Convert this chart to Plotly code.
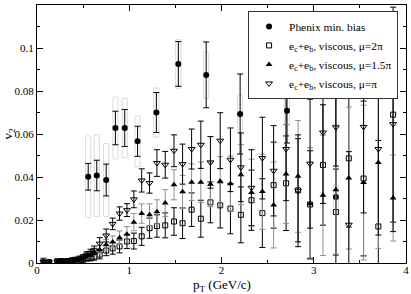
import plotly.graph_objects as go

# Phenix minimum-bias data
phenix_x = [0.555, 0.648, 0.75, 0.85, 0.951, 1.09, 1.294, 1.532, 1.834, 2.202, 2.71, 3.24]
phenix_y = [0.0401, 0.0407, 0.0386, 0.0628, 0.0628, 0.0566, 0.0700, 0.0926, 0.0875, 0.0693, 0.0708, 0.0307]
phenix_stat = [0.0062, 0.0071, 0.0074, 0.0078, 0.0086, 0.0070, 0.0093, 0.0104, 0.0153, 0.0186, 0.0150, 0.0500]
phenix_sys = [0.0190, 0.0190, 0.0170, 0.0144, 0.0137, 0.0118, 0.0114, 0.0113, 0.0108, 0.0089, 0.0070, 0.0060]

# theory pT grid
theory_x = [0.07, 0.13, 0.22, 0.26, 0.30, 0.34, 0.38, 0.42, 0.46, 0.50, 0.54, 0.58, 0.62, 0.68, 0.75,
            0.82, 0.895, 0.975, 1.05, 1.135, 1.22, 1.30, 1.39, 1.485, 1.578, 1.676, 1.776, 1.88,
            1.986, 2.097, 2.21, 2.325, 2.443, 2.565, 2.70, 2.83, 2.96, 3.10, 3.24, 3.38, 3.54, 3.70, 3.86]

# mu = 2 pi (open squares)
sq_y = [0.0003, 0.0004, 0.0008, 0.0009, 0.0008, 0.0009, 0.0012, 0.0013, 0.0015, 0.0016, 0.0022, 0.0025,
        0.0030, 0.0039, 0.0058, 0.0068, 0.0077, 0.0100, 0.0102, 0.0124, 0.0162, 0.0172, 0.0175, 0.0193,
        0.0185, 0.0248, 0.0206, 0.0282, 0.0268, 0.0253, 0.0224, 0.0292, 0.0232, 0.0362, 0.0371, 0.0338,
        0.0272, 0.0456, 0.0237, 0.0487, 0.0393, 0.0170, 0.0690]
sq_err = [0.0012, 0.0008, 0.0007, 0.0007, 0.0007, 0.0008, 0.0008, 0.0009, 0.0010, 0.0011, 0.0013, 0.0015,
          0.0017, 0.0020, 0.0024, 0.0027, 0.0030, 0.0033, 0.0037, 0.0042, 0.0047, 0.0052, 0.0058, 0.0064,
          0.0071, 0.0078, 0.0086, 0.0095, 0.0105, 0.0117, 0.0130, 0.0140, 0.0160, 0.0200, 0.0220, 0.0240,
          0.0250, 0.0280, 0.0200, 0.0320, 0.0360, 0.0400, 0.0500]

# mu = 1.5 pi (filled triangles)
tri_y = [0.0002, 0.0003, 0.0005, 0.0006, 0.0006, 0.0004, 0.0010, 0.0014, 0.0018, 0.0023, 0.0034, 0.0040,
         0.0051, 0.0062, 0.0085, 0.0098, 0.0118, 0.0134, 0.0190, 0.0230, 0.0225, 0.0238, 0.0279, 0.0364,
         0.0331, 0.0376, 0.0376, 0.0366, 0.0380, 0.0369, 0.0411, 0.0328, 0.0332, 0.0270, 0.0414, 0.0403,
         0.0276, 0.0315, 0.0341, 0.0395, 0.0374, 0.0468, 0.0302]
tri_err = [0.0012, 0.0008, 0.0007, 0.0007, 0.0008, 0.0008, 0.0009, 0.0010, 0.0011, 0.0012, 0.0014, 0.0016,
           0.0018, 0.0021, 0.0025, 0.0028, 0.0031, 0.0035, 0.0040, 0.0045, 0.0050, 0.0056, 0.0062, 0.0070,
           0.0077, 0.0085, 0.0094, 0.0104, 0.0115, 0.0128, 0.0140, 0.0155, 0.0175, 0.0200, 0.0230, 0.0260,
           0.0260, 0.0280, 0.0300, 0.0330, 0.0360, 0.0400, 0.0200]

# mu = pi (open down triangles)
dn_y = [0.0005, 0.0003, 0.0006, 0.0007, 0.0008, 0.0010, 0.0013, 0.0016, 0.0020, 0.0026, 0.0038, 0.0047,
        0.0059, 0.0090, 0.0128, 0.0182, 0.0230, 0.0246, 0.0296, 0.0384, 0.0372, 0.0465, 0.0457, 0.0522,
        0.0460, 0.0530, 0.0550, 0.0468, 0.0569, 0.0480, 0.0445, 0.0350, 0.0488, 0.0429, 0.0530, 0.0336,
        0.0462, 0.0607, 0.0631, 0.0178, 0.0633, 0.0530, 0.0646]
dn_err = [0.0017, 0.0009, 0.0008, 0.0008, 0.0009, 0.0009, 0.0010, 0.0011, 0.0012, 0.0013, 0.0015, 0.0017,
          0.0020, 0.0028, 0.0030, 0.0027, 0.0031, 0.0030, 0.0039, 0.0054, 0.0047, 0.0062, 0.0062, 0.0074,
          0.0093, 0.0093, 0.0110, 0.0120, 0.0130, 0.0148, 0.0160, 0.0177, 0.0190, 0.0210, 0.0240, 0.0260,
          0.0300, 0.0330, 0.0180, 0.0340, 0.0400, 0.0400, 0.0500]

labels = ["Phenix min. bias",
          "e<sub>c</sub>+e<sub>b</sub>, viscous, μ=2π",
          "e<sub>c</sub>+e<sub>b</sub>, viscous, μ=1.5π",
          "e<sub>c</sub>+e<sub>b</sub>, viscous, μ=π"]
x_title = "p<sub>T</sub> (GeV/c)"
y_title = "v<sub>2</sub>"

FONT = "Liberation Serif"

fig = go.Figure()

# systematic boxes
fig.add_trace(go.Bar(
    x=phenix_x, y=[2 * s for s in phenix_sys],
    base=[y - s for y, s in zip(phenix_y, phenix_sys)],
    width=0.055, marker=dict(color="rgba(0,0,0,0)", line=dict(color="#dadada", width=1)),
    showlegend=False, hoverinfo="skip"))

def err(arr, color):
    return dict(type="data", array=arr, visible=True, color=color, thickness=1, width=3)

fig.add_trace(go.Scatter(
    x=phenix_x, y=phenix_y, mode="markers", name=labels[0],
    marker=dict(symbol="circle", size=6, color="black"),
    error_y=err(phenix_stat, "black")))

fig.add_trace(go.Scatter(
    x=theory_x, y=sq_y, mode="markers", name=labels[1],
    marker=dict(symbol="square-open", size=5, color="black", line=dict(width=1)),
    error_y=err(sq_err, "black")))

fig.add_trace(go.Scatter(
    x=theory_x, y=tri_y, mode="markers", name=labels[2],
    marker=dict(symbol="triangle-up", size=6, color="black"),
    error_y=err(tri_err, "#909090")))

fig.add_trace(go.Scatter(
    x=theory_x, y=dn_y, mode="markers", name=labels[3],
    marker=dict(symbol="triangle-down-open", size=6, color="black", line=dict(width=1)),
    error_y=err(dn_err, "black")))

axis_common = dict(showline=True, linecolor="black", linewidth=1, mirror="allticks",
                   ticks="inside", ticklen=6, tickcolor="black", showgrid=False, zeroline=False,
                   automargin=False,
                   tickfont=dict(family=FONT, size=11, color="black"))

fig.update_layout(
    width=411, height=294,
    margin=dict(l=37, r=5, t=5, b=31),
    paper_bgcolor="white", plot_bgcolor="white",
    font=dict(family=FONT, color="black"),
    barmode="overlay",
    xaxis=dict(range=[0, 4], dtick=1, tick0=0, ticklabelstandoff=-3,
               minor=dict(ticks="inside", ticklen=3, dtick=0.5, tickcolor="black"),
               **axis_common),
    yaxis=dict(range=[0, 0.12], dtick=0.02, tick0=0,
               minor=dict(ticks="inside", ticklen=3, dtick=0.01, tickcolor="black"),
               title=dict(text=y_title, font=dict(family=FONT, size=13), standoff=4),
               **axis_common),
    legend=dict(x=0.572, y=0.977, xanchor="left", yanchor="top",
                bgcolor="white", bordercolor="#333333", borderwidth=1,
                font=dict(family=FONT, size=11.4), itemwidth=30, tracegroupgap=0),
    annotations=[dict(text=x_title, xref="paper", yref="paper", x=0.5, y=-0.088,
                      xanchor="center", yanchor="middle", showarrow=False,
                      font=dict(family=FONT, size=13, color="black"))],
)

fig.write_html("out.html", config={"displayModeBar": False},
               post_script="document.body.style.margin='0';document.body.style.overflow='hidden';")
